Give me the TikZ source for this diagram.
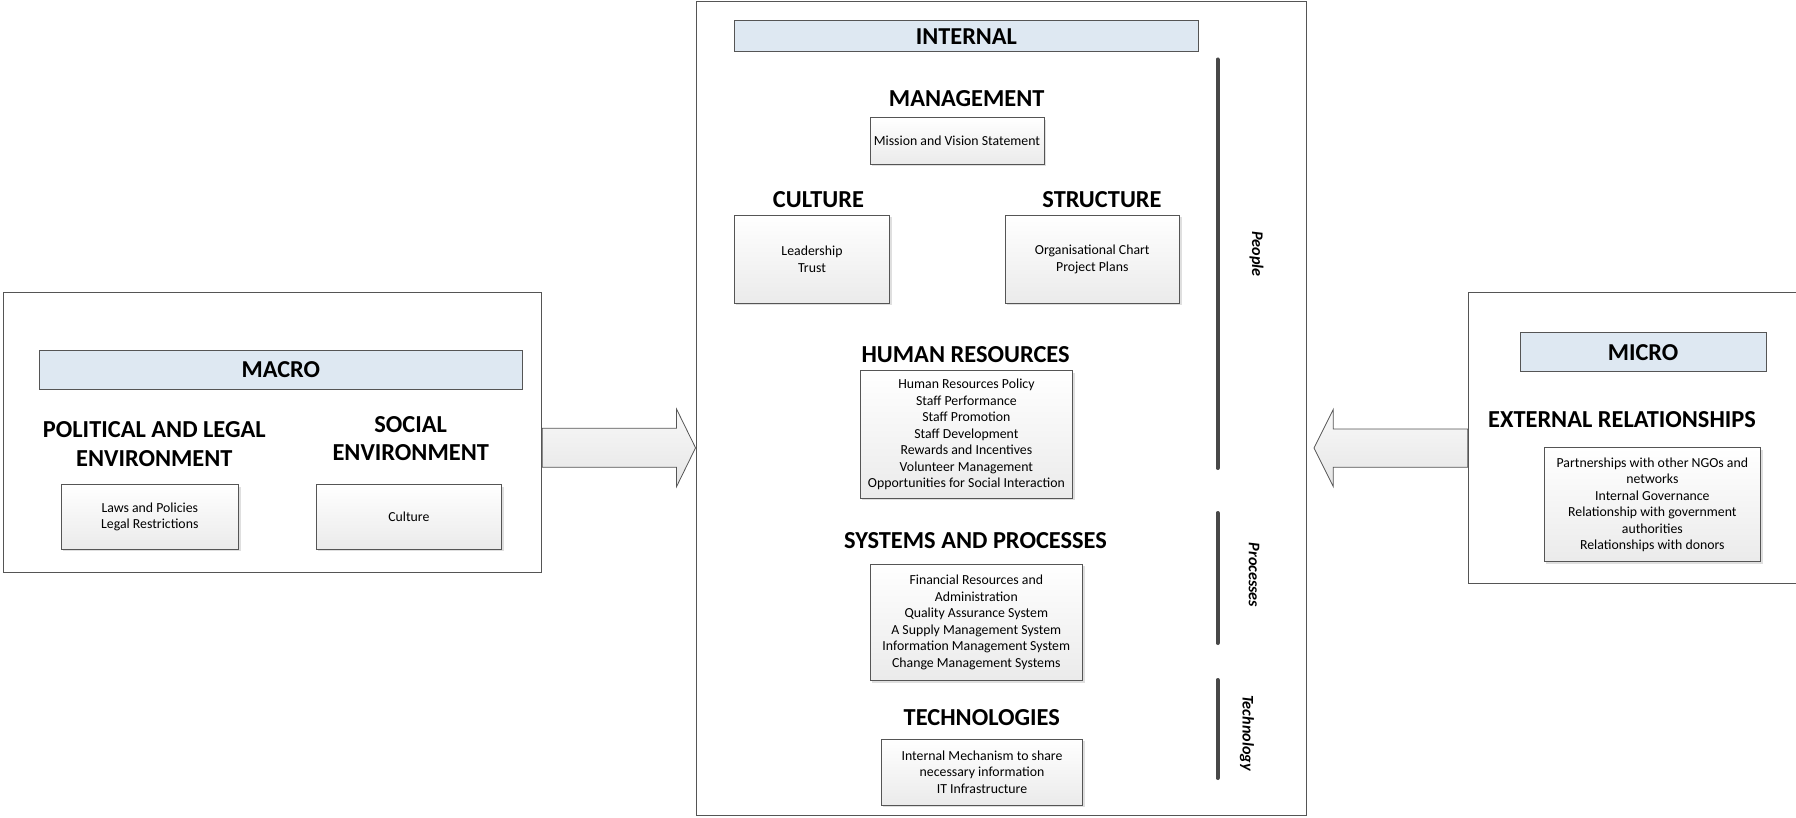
\documentclass[tikz,border=0pt]{standalone}
\usepackage{fontspec}
\setmainfont{Carlito}
\usetikzlibrary{shadows}
\definecolor{hdrblue}{RGB}{222,232,242}
\definecolor{edgecol}{RGB}{85,85,85}
\definecolor{barcol}{RGB}{72,72,72}
\begin{document}
\begin{tikzpicture}[x=1pt,y=-1pt,
  outer/.style={draw=edgecol, line width=0.9pt, fill=white, inner sep=0pt},
  hdr/.style={draw=edgecol, line width=1pt, fill=hdrblue, inner sep=0pt, font=\fontsize{24.3}{28}\selectfont\bfseries},
  item/.style={draw=edgecol, line width=0.9pt, top color=white, bottom color=gray!16, align=center, inner sep=0pt,
     font=\fontsize{13.8}{16.5}\selectfont, drop shadow={shadow xshift=2pt, shadow yshift=-2pt, opacity=0.25, fill=gray}},
  head/.style={font=\fontsize{24.4}{28.3}\selectfont\bfseries, align=center, inner sep=0pt},
  side/.style={font=\fontsize{16.2}{19}\selectfont\bfseries\itshape, rotate=-90, inner sep=0pt},
  bar/.style={draw=barcol, line width=4pt, line cap=round},
  blockarrow/.style={draw=edgecol, line width=0.8pt, top color=gray!5, bottom color=gray!20}]
\useasboundingbox (0,0) rectangle (1796,818);

% ---- MACRO ----
\node[outer, minimum width=538.8pt, minimum height=280pt] (macro) at (272.4,432.7) {};
\node[hdr, minimum width=483.2pt, minimum height=38.6pt] (macrohdr) at (280.9,370) {MACRO};
\node[head] (polhead) at (154.3,444) {POLITICAL AND LEGAL\\ENVIRONMENT};
\node[head] (sochead) at (410.7,438.7) {SOCIAL\\ENVIRONMENT};
\node[item, minimum width=177.6pt, minimum height=64.3pt] (laws) at (149.8,516.85) {Laws and Policies\\Legal Restrictions};
\node[item, minimum width=185.8pt, minimum height=64.3pt] (socculture) at (408.9,516.85) {Culture};

% ---- INTERNAL ----
\node[outer, minimum width=610pt, minimum height=814.4pt] (internal) at (1001,408.3) {};
\node[hdr, minimum width=464.2pt, minimum height=31pt] (inthdr) at (966.4,36.2) {INTERNAL};
\node[head] (mgmthead) at (966.7,99) {MANAGEMENT};
\node[item, minimum width=174pt, minimum height=46.6pt] (mission) at (957,141) {Mission and Vision Statement};
\node[head] (culthead) at (818.5,200) {CULTURE};
\node[item, minimum width=155.4pt, minimum height=88.3pt] (leader) at (812,259.15) {Leadership\\Trust};
\node[head] (structhead) at (1102,200) {STRUCTURE};
\node[item, minimum width=174.5pt, minimum height=88.3pt] (org) at (1092.25,259.15) {Organisational Chart\\Project Plans};
\node[head] (hrhead) at (965.6,354.3) {HUMAN RESOURCES};
\node[item, minimum width=212.8pt, minimum height=127.6pt] (hr) at (966.4,434.5) {Human Resources Policy\\Staff Performance\\Staff Promotion\\Staff Development\\Rewards and Incentives\\Volunteer Management\\Opportunities for Social Interaction};
\node[head] (sphead) at (975.5,541) {SYSTEMS AND PROCESSES};
\node[item, minimum width=212.6pt, minimum height=116.4pt] (sp) at (976.3,622.5) {Financial Resources and\\Administration\\Quality Assurance System\\A Supply Management System\\Information Management System\\Change Management Systems};
\node[head] (techhead) at (981.8,717.3) {TECHNOLOGIES};
\node[item, minimum width=201.2pt, minimum height=65.7pt] (tech) at (982,772.15) {Internal Mechanism to share\\necessary information\\IT Infrastructure};

\coordinate (pa) at (1217.5,59.5);  \coordinate (pb) at (1217.5,468);
\coordinate (qa) at (1217.5,513);   \coordinate (qb) at (1217.5,643);
\coordinate (ta) at (1217.5,680);   \coordinate (tb) at (1217.5,778);
\draw[bar] (pa) -- (pb);
\draw[bar] (qa) -- (qb);
\draw[bar] (ta) -- (tb);
\node[side] (people) at (1256.5,254) {People};
\node[side] (processes) at (1254,575) {Processes};
\node[side] (technology) at (1247,733) {Technology};

% ---- MICRO ----
\node[outer, minimum width=333.7pt, minimum height=290.6pt] (micro) at (1635.15,438) {};
\node[hdr, minimum width=246pt, minimum height=39pt] (microhdr) at (1643,352.2) {MICRO};
\node[head] (erhead) at (1622,420) {EXTERNAL RELATIONSHIPS};
\node[item, minimum width=216.7pt, minimum height=114pt] (er) at (1652.35,504.7) {Partnerships with other NGOs and\\networks\\Internal Governance\\Relationship with government\\authorities\\Relationships with donors};

% ---- block arrows ----
\coordinate (rtip) at (internal.west |- 0,447.8);
\draw[blockarrow] (macro.east |- 0,428.3) -- (676.5,428.3) -- (676.5,409) -- (rtip)
   -- (676.5,486.7) -- (676.5,467.3) -- (macro.east |- 0,467.3) -- cycle;
\coordinate (ltip) at (1314,448);
\draw[blockarrow] (micro.west |- 0,429) -- (1333.3,429) -- (1333.3,409.3) -- (ltip)
   -- (1333.3,486.7) -- (1333.3,467.3) -- (micro.west |- 0,467.3) -- cycle;
\end{tikzpicture}
\end{document}
